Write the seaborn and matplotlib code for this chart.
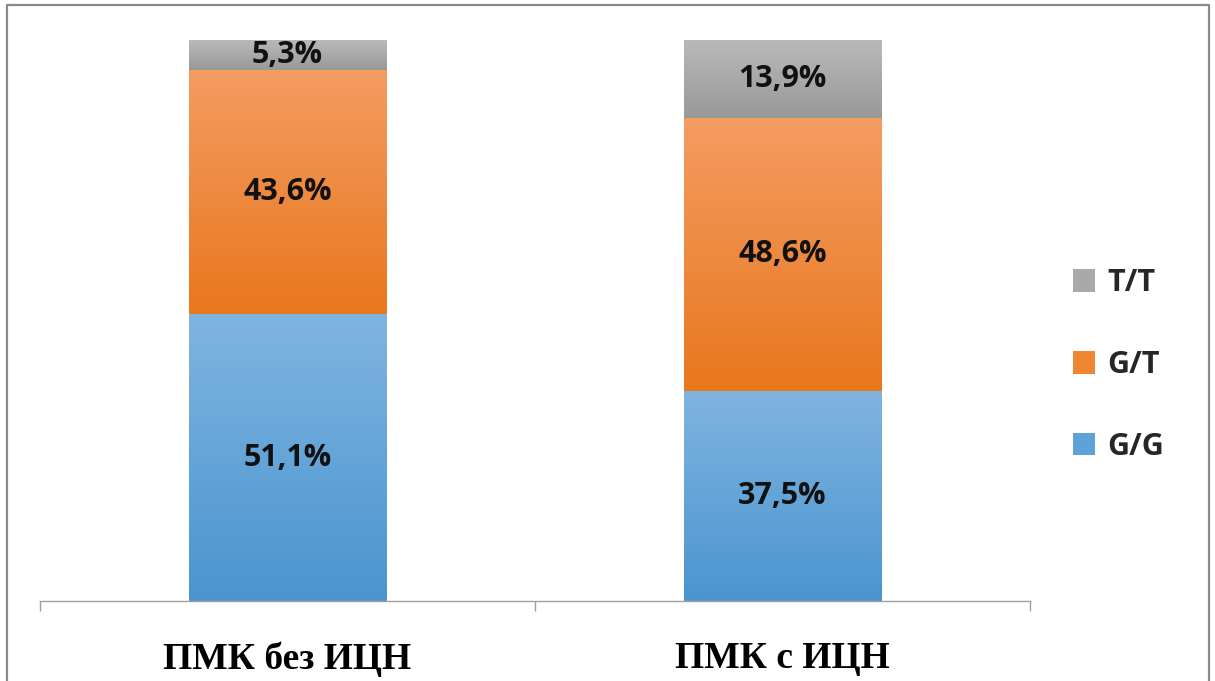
import numpy as np
import pandas as pd
import matplotlib
matplotlib.use("Agg")
import matplotlib.pyplot as plt
from matplotlib.colors import to_rgb
from matplotlib.patches import Patch
from matplotlib.lines import Line2D
import seaborn as sns

# Data
categories = ["ПМК без ИЦН", "ПМК с ИЦН"]
genotypes = ["G/G", "G/T", "T/T"]
gg = [51.1, 37.5]
gt = [43.6, 48.6]
tt = [5.3, 13.9]

# Gradient colours per genotype: (top, bottom)
grad = {
    "G/G": ("#80b4e0", "#4a95d0"),
    "G/T": ("#f49c62", "#e9771d"),
    "T/T": ("#b9b9b9", "#999999"),
}
legend_col = {"G/G": "#5ea2d8", "G/T": "#ee8633", "T/T": "#a9a9a9"}

df = pd.DataFrame({"cat": categories, "G/G": gg, "G/T": gt, "T/T": tt})

sns.set_theme(style="white")
plt.rcParams["font.family"] = ["Open Sans", "DejaVu Sans"]

fig = plt.figure(figsize=(12.15, 6.81), dpi=100)
ax = fig.add_axes([40 / 1215, 1 - 601 / 681, (1030 - 40) / 1215, (601 - 40) / 681])

bottom = np.zeros(len(categories))
for g in genotypes:
    vals = df[g].to_numpy()
    n_before = len(ax.patches)
    sns.barplot(x=df["cat"], y=vals, bottom=bottom, width=0.4, ax=ax,
                color=legend_col[g], linewidth=0, saturation=1)
    new_patches = ax.patches[n_before:]
    top_c, bot_c = np.array(to_rgb(grad[g][0])), np.array(to_rgb(grad[g][1]))
    for p, v in zip(new_patches, vals):
        x0, y0 = p.get_x(), p.get_y()
        w, h = p.get_width(), p.get_height()
        t = np.linspace(0, 1, 256)[:, None]
        img = (top_c * (1 - t) + bot_c * t)[:, None, :]
        im = ax.imshow(img, extent=[x0, x0 + w, y0, y0 + h], origin="upper",
                       aspect="auto", zorder=p.get_zorder() + 0.1, interpolation="bilinear")
        im.set_clip_path(p)
        ax.text(x0 + w / 2, y0 + h / 2, f"{v:.1f}%".replace(".", ","),
                ha="center", va="center", fontsize=22, fontweight="bold",
                color="#111111", zorder=5)
    bottom = bottom + vals

ax.set_xlim(-0.5, 1.5)
ax.set_ylim(0, 100)
ax.set_xlabel("")
ax.set_ylabel("")
ax.set_yticks([])

# Category boundaries as tick marks, labels centred under bars
ax.set_xticks([-0.5, 0.5, 1.5])
ax.set_xticklabels(["", "", ""])
ax.set_xticks([0, 1], minor=True)
ax.set_xticklabels(categories, minor=True, fontsize=27, fontweight="bold",
                   family="Liberation Serif", color="black")
ax.tick_params(axis="x", which="major", length=7.5, width=1, color="#a0a0a0",
               direction="out", bottom=True)
ax.tick_params(axis="x", which="minor", length=0, pad=29)

for s in ["top", "right", "left"]:
    ax.spines[s].set_visible(False)
ax.spines["bottom"].set_color("#a0a0a0")
ax.spines["bottom"].set_linewidth(1)

# Legend
handles = [Patch(facecolor=legend_col[g], edgecolor="none") for g in ["T/T", "G/T", "G/G"]]
fig.legend(handles, ["T/T", "G/T", "G/G"], loc="center left",
           bbox_to_anchor=(1045 / 1215, 1 - 365 / 681), frameon=False,
           prop={"size": 22, "weight": "bold"}, labelspacing=1.7,
           handlelength=0.75, handleheight=0.75, handletextpad=0.4)

# Outer frame
fc = "#8a8a8a"
fig.add_artist(Line2D([7 / 1215, 7 / 1215], [0, 1 - 5 / 681], color=fc, lw=1.6, transform=fig.transFigure))
fig.add_artist(Line2D([7 / 1215, 1209 / 1215], [1 - 5 / 681, 1 - 5 / 681], color=fc, lw=1.6, transform=fig.transFigure))
fig.add_artist(Line2D([1209 / 1215, 1209 / 1215], [0, 1 - 5 / 681], color=fc, lw=1.6, transform=fig.transFigure))

fig.savefig("out.png", dpi=100)
